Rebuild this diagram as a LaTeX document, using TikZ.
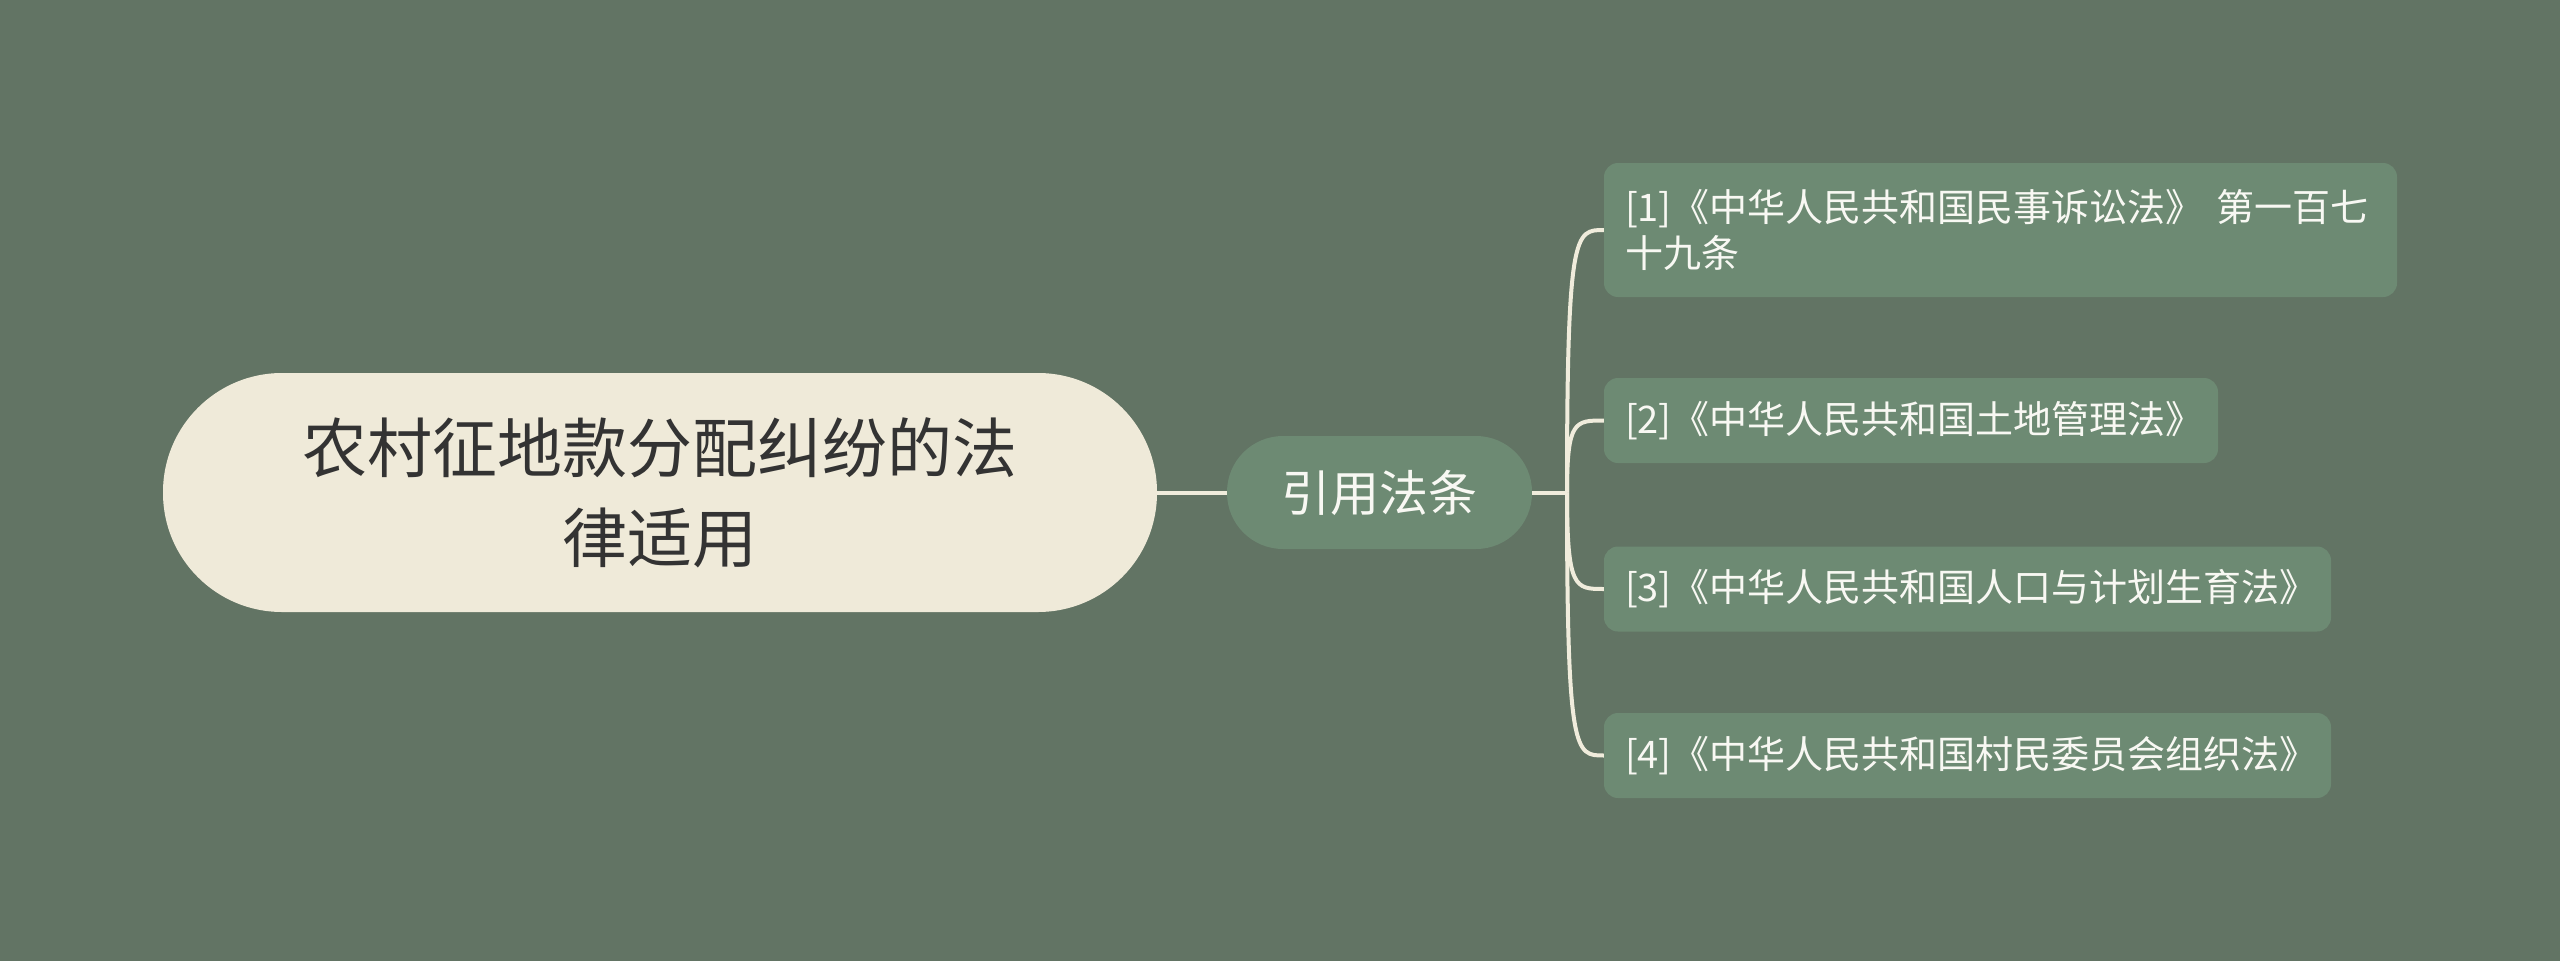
\documentclass[tikz,border=0pt]{standalone}
\usepackage{fontspec}
\setmainfont{Noto Sans CJK SC}
\usetikzlibrary{shapes}

\definecolor{bgGreen}{HTML}{627464}
\definecolor{boxGreen}{HTML}{6D8A73}
\definecolor{creamFill}{HTML}{EFEAD9}
\definecolor{creamLine}{HTML}{F0ECDC}
\definecolor{darkText}{HTML}{333333}
\definecolor{lightText}{HTML}{F8F8F3}

\begin{document}
\begin{tikzpicture}[x = 1pt, y = -1pt]
	\tikzstyle{rootStyle}=[fill = creamFill, text = darkText, rounded corners = 119pt, minimum width = 994pt, minimum height = 239pt, align = center, font = \fontsize{65}{90}\selectfont]
	\tikzstyle{topicStyle}=[fill = boxGreen, text = lightText, rounded corners = 56pt, minimum width = 305pt, minimum height = 113pt, font = \fontsize{49}{60}\selectfont]
	\tikzstyle{leafStyle}=[fill = boxGreen, text = lightText, rounded corners = 14pt, inner xsep = 21pt, inner ysep = 0pt, minimum height = 85pt, align = left, font = \fontsize{38}{46}\selectfont]
	\tikzstyle{EdgeStyle}=[draw = creamLine, line width = 4pt]
	\fill[bgGreen] (0,0) rectangle (2560,961);
	\useasboundingbox (0,0) rectangle (2560,961);
	\node[rootStyle] (root) at (660,492.5) {农村征地款分配纠纷的法\\律适用};
	\node[topicStyle] (topic) at (1379.5,492.5) {引用法条};
	\coordinate (hub) at (1567,492.5);
	\node[leafStyle, text width = 751pt, minimum height = 134pt] (l1) at (2000.5,230) {[1]《中华人民共和国民事诉讼法》~第一百七\\十九条};
	\node[leafStyle, text width = 572pt] (l2) at (1911,420.5) {[2]《中华人民共和国土地管理法》};
	\node[leafStyle, text width = 685pt] (l3) at (1967.5,589) {[3]《中华人民共和国人口与计划生育法》};
	\node[leafStyle, text width = 685pt] (l4) at (1967.5,755.5) {[4]《中华人民共和国村民委员会组织法》};
	\draw[EdgeStyle] (root.east) -- (topic.west);
	\draw[EdgeStyle] (topic.east) -- (hub);
	\foreach \leaf/\y in {l1/230, l2/420.5, l3/589, l4/755.5}
		\draw[EdgeStyle] (hub) .. controls (1567,\y) and (1575,\y) .. (\leaf.west);
\end{tikzpicture}
\end{document}
